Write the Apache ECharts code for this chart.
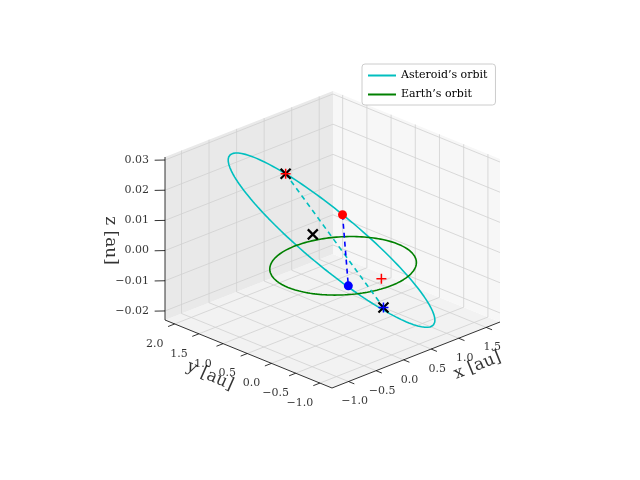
<!DOCTYPE html>
<html><head><meta charset="utf-8">
<script src="https://cdn.jsdelivr.net/npm/echarts@6/dist/echarts.min.js"></script>
<style>html,body{margin:0;padding:0;background:#fff}#c{width:640px;height:480px}</style>
</head><body><div id="c"></div>
<script>
// ---- data ----
var xTicks = [-1.0, -0.5, 0.0, 0.5, 1.0, 1.5];
var yTicks = [-1.0, -0.5, 0.0, 0.5, 1.0, 1.5, 2.0];
var zTicks = [-0.02, -0.01, 0.00, 0.01, 0.02, 0.03];
var xTickLabels = ['−1.0','−0.5','0.0','0.5','1.0','1.5'];
var yTickLabels = ['−1.0','−0.5','0.0','0.5','1.0','1.5','2.0'];
var zTickLabels = ['−0.02','−0.01','0.00','0.01','0.02','0.03'];
var earthCenter = [0, 0, 0];
var earthRadius = 1.0;
var asteroidCenter = [-0.1, 0.125, 0.0084];
var asteroidU = [0.985, -0.985, -0.0287];
var asteroidV = [0.9, 0.67, -0.004];
var crossPoints = [[0.052, 1.246, 0.0220], [-0.55, 0.0, 0.01435], [-0.109, -0.958, -0.0068]];
var redDot = [-0.45, -0.5, 0.0234];
var blueDot = [-0.406, -0.570, 0.0];
var redPlus = [[0.059, -0.724, 0.0], [0.052, 1.246, 0.0220]];
var bluePlus = [[-0.109, -0.958, -0.0068]];
var nodeLine = [crossPoints[0], crossPoints[2]];

// ---- projection ----
var R = {x:[-1.3,1.75], y:[-1.25,2.2], z:[-0.023,0.031]};
var O = [332,388], VX=[168,-66], VY=[-167,-68], VZ=[0,-163];
function P(p){
  var X=(p[0]-R.x[0])/(R.x[1]-R.x[0]), Y=(p[1]-R.y[0])/(R.y[1]-R.y[0]), Z=(p[2]-R.z[0])/(R.z[1]-R.z[0]);
  return [O[0]+X*VX[0]+Y*VY[0]+Z*VZ[0], O[1]+X*VX[1]+Y*VY[1]+Z*VZ[1]];
}
var x0=R.x[0],x1=R.x[1],y0=R.y[0],y1=R.y[1],z0=R.z[0],z1=R.z[1];
var series=[];
function line(pts,color,width,type,name,z){
  series.push({type:'line',name:name,data:pts.map(P),symbol:'none',silent:true,animation:false,z:z||2,
    itemStyle:{color:color},lineStyle:{color:color,width:width,type:type||'solid'}});
}
// panes
var panes=[
  {pts:[[x0,y0,z0],[x1,y0,z0],[x1,y1,z0],[x0,y1,z0]],c:'#f2f2f2'},
  {pts:[[x0,y1,z0],[x1,y1,z0],[x1,y1,z1],[x0,y1,z1]],c:'#e9e9e9'},
  {pts:[[x1,y0,z0],[x1,y1,z0],[x1,y1,z1],[x1,y0,z1]],c:'#f7f7f7'}
];
series.push({type:'custom',silent:true,animation:false,z:0,data:panes.map(function(p,i){return i;}),
  renderItem:function(params,api){
    var p=panes[params.dataIndex];
    return {type:'polygon',shape:{points:p.pts.map(function(q){return api.coord(P(q));})},style:{fill:p.c}};
  }});
var gc='#d0d0d0';
xTicks.forEach(function(x){ line([[x,y0,z0],[x,y1,z0],[x,y1,z1]],gc,0.8,'solid',null,1); });
yTicks.forEach(function(y){ line([[x0,y,z0],[x1,y,z0],[x1,y,z1]],gc,0.8,'solid',null,1); });
zTicks.forEach(function(z){ line([[x0,y1,z],[x1,y1,z],[x1,y0,z]],gc,0.8,'solid',null,1); });
// axis edges
line([[x1,y0,z0],[x0,y0,z0],[x0,y1,z0]],'#000',0.8,'solid',null,1);
line([[x0,y1,z0],[x0,y1,z1]],'#000',0.8,'solid',null,1);
xTicks.forEach(function(x){ line([[x,y0,z0],[x,y0-0.12,z0]],'#000',0.8,'solid',null,1); });
yTicks.forEach(function(y){ line([[x0,y,z0],[x0-0.12,y,z0]],'#000',0.8,'solid',null,1); });
zTicks.forEach(function(z){ line([[x0,y1,z],[x0-0.1,y1+0.1,z]],'#000',0.8,'solid',null,1); });
// tick labels
function labels(pos,texts,offset,align,size,rot){
  series.push({type:'scatter',silent:true,animation:false,symbolSize:0,z:3,
    data:pos.map(function(p,i){return {value:P(p),label:{formatter:texts[i]}};}),
    label:{show:true,position:'inside',offset:offset,align:align||'center',verticalAlign:'middle',rotate:rot||0,
      fontFamily:'DejaVu Serif',fontSize:size||11,color:'#000'}});
}
labels(xTicks.map(function(x){return [x,y0,z0];}),xTickLabels,[6,20],'center',11);
labels(yTicks.map(function(y){return [x0,y,z0];}),yTickLabels,[-20,20],'center',11);
labels(zTicks.map(function(z){return [x0,y1,z];}),zTickLabels,[-16,0],'right',11);
series.push({type:'scatter',silent:true,animation:false,symbolSize:0,z:3,
  data:[{value:P([0.55,y0-0.9,z0]),label:{formatter:'x [au]',rotate:22}},
        {value:P([x0-0.85,0.3,z0]),label:{formatter:'y [au]',rotate:-24}},
        {value:P([x0-0.55,y1+0.5,0.004]),label:{formatter:'z [au]',rotate:-90}}],
  label:{show:true,position:'inside',fontFamily:'DejaVu Serif',fontSize:17,color:'#000'}});
// orbits
var earth=[],ast=[];
for(var i=0;i<=180;i++){var t=2*Math.PI*i/180;
  earth.push([earthCenter[0]+earthRadius*Math.cos(t),earthCenter[1]+earthRadius*Math.sin(t),earthCenter[2]]);
  ast.push([0,1,2].map(function(k){return asteroidCenter[k]+asteroidU[k]*Math.cos(t)+asteroidV[k]*Math.sin(t);}));}
line(ast,'#00bfbf',1.6,'solid',"Asteroid’s orbit",5);
line(earth,'#008000',1.6,'solid',"Earth’s orbit",5);
line(nodeLine,'#00bfbf',1.6,[5,4],null,6);
line([redDot,blueDot],'#0000ff',1.6,[5,4],null,6);
function pts(arr,color,symbol,size,z){
  series.push({type:'scatter',silent:true,animation:false,z:z,symbol:symbol,symbolSize:size,
    data:arr.map(P),itemStyle:{color:color,opacity:1}});
}
var xPath='path://M0,0L10,10M10,0L0,10';
var plusPath='path://M5,0L5,10M0,5L10,5';
series.push({type:'scatter',silent:true,animation:false,z:7,symbol:xPath,symbolSize:10,data:crossPoints.map(P),
  itemStyle:{color:'none',borderColor:'#000',borderWidth:2.2,opacity:1}});
series.push({type:'scatter',silent:true,animation:false,z:8,symbol:plusPath,symbolSize:10,data:redPlus.map(P),
  itemStyle:{color:'none',borderColor:'#ff0000',borderWidth:1.5,opacity:1}});
series.push({type:'scatter',silent:true,animation:false,z:8,symbol:plusPath,symbolSize:10,data:bluePlus.map(P),
  itemStyle:{color:'none',borderColor:'#0000ff',borderWidth:1.5,opacity:1}});
pts([redDot],'#ff0000','circle',9,8);
pts([blueDot],'#0000ff','circle',9,8);

var chart=echarts.init(document.getElementById('c'));
chart.setOption({
  animation:false,
  grid:{left:0,right:0,top:0,bottom:0},
  xAxis:{type:'value',min:0,max:640,show:false},
  yAxis:{type:'value',min:0,max:480,inverse:true,show:false},
  legend:{data:[{name:"Asteroid’s orbit",icon:'rect'},{name:"Earth’s orbit",icon:'rect'}],orient:'vertical',left:362,top:64,
    backgroundColor:'rgba(255,255,255,0.85)',borderColor:'#ccc',borderWidth:1,borderRadius:3,padding:[6,8,5,6],
    itemGap:8,itemWidth:28,itemHeight:2,textStyle:{fontFamily:'DejaVu Serif',fontSize:11,color:'#000'}},
  series:series
});
</script></body></html>
